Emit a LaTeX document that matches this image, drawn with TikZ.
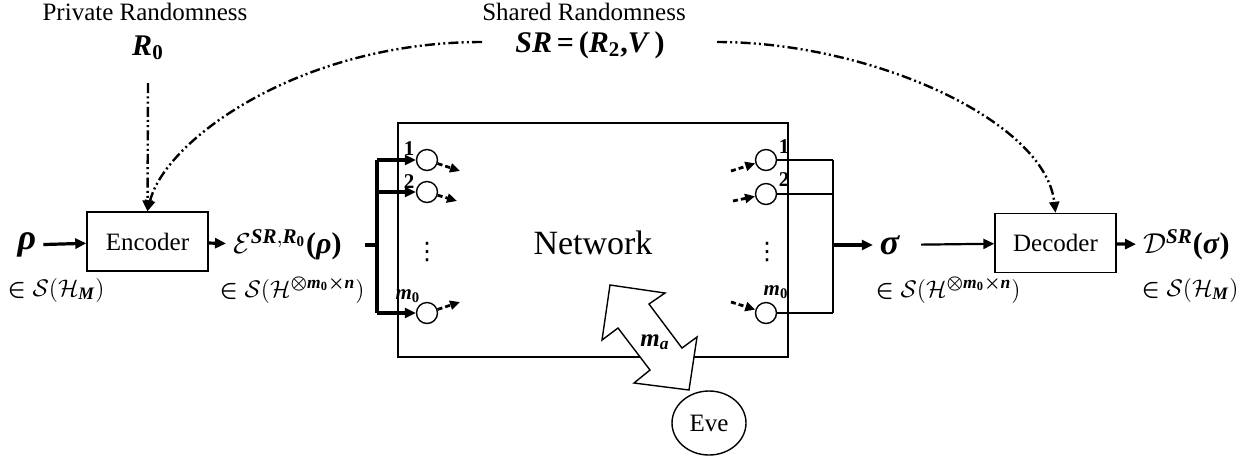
\documentclass[tikz,border=0pt]{standalone}
\usepackage{amsmath}
\usepackage{fontspec}
\setmainfont{Liberation Serif}
\newfontfamily\dotsfont{DejaVu Sans}
\usepackage{tikz}
\usetikzlibrary{arrows.meta,shapes.geometric}
\newcommand{\bfit}[1]{\textbf{\textit{#1}}}

\begin{document}
\begin{tikzpicture}[x=0.5pt,y=-0.5pt,
  font=\fontsize{12.5}{14}\selectfont,
  blk/.style={draw,line width=0.7pt,minimum width=60.5pt,minimum height=29.5pt,inner sep=0pt},
  port/.style={circle,draw,line width=0.7pt,minimum size=10.5pt,inner sep=0pt},
  sym/.style={font=\fontsize{15}{15}\selectfont},
  big/.style={font=\fontsize{18}{18}\selectfont},
  lbl/.style={font=\fontsize{10.5}{10.5}\selectfont,inner sep=0pt},
  vdot/.style={font=\dotsfont\fontsize{12}{12}\selectfont,inner sep=0pt},
  feed/.style={line width=1.6pt,-{Triangle[length=5.5pt,width=5pt]}},
  wire/.style={line width=0.9pt},
  hop/.style={line width=1.4pt,dash pattern=on 2.5pt off 1.5pt,-{Triangle[length=5pt,width=4.5pt]}},
  dd/.style={line width=1.2pt,dash pattern=on 5pt off 1.6pt on 1pt off 1.6pt on 1pt off 1.6pt,-{Triangle[length=5.5pt,width=5pt]}}]

  \useasboundingbox (0,0) rectangle (1253,457);

  % Randomness sources
  \node (priv) at (145,12) {Private Randomness};
  \node (shared) at (584,12) {Shared Randomness};
  \node[sym] (R0) at (148,48) {$\bfit{R}_{\textbf{0}}$};
  \node[sym] (SR) at (590,45) {$\bfit{SR}\,\textbf{=}\,\textbf{(}\bfit{R}_{\textbf{2}}\textbf{,}\bfit{V}\,\textbf{)}$};

  % Encoder side
  \node[big] (rho) at (27,245) {\bfit{ρ}};
  \node[blk] (enc) at (147.5,241.5) {Encoder};
  \node[sym,anchor=west] (encout) at (226,245) {$\mathcal{E}^{\bfit{SR},\bfit{R}_{\textbf{0}}}\textbf{(}\bfit{ρ}\textbf{)}$};
  \node (inM) at (56,290) {$\boldsymbol{\in}\mathcal{S}(\mathcal{H}_{\bfit{M}})$};
  \node (inN) at (292,290) {$\boldsymbol{\in}\mathcal{S}(\mathcal{H}^{\boldsymbol{\otimes}\bfit{m}_{\textbf{0}}\boldsymbol{\times}\bfit{n}})$};

  % Network box
  \draw[line width=0.7pt] (398,123) rectangle (788,357);
  \node[font=\fontsize{17}{17}\selectfont] (net) at (593,243) {Network};

  % Ports
  \node[port] (l1) at (427,160) {};
  \node[port] (l2) at (427,192) {};
  \node[port] (lm) at (427,313) {};
  \node[port] (r1) at (766,160) {};
  \node[port] (r2) at (766,194) {};
  \node[port] (rm) at (766,313) {};
  \node[lbl] (l1t) at (409,149) {\textbf{1}};
  \node[lbl] (l2t) at (409,182) {\textbf{2}};
  \node[lbl] (lmt) at (408,296) {$\bfit{m}_{\textbf{0}}$};
  \node[lbl] (r1t) at (784,147) {\textbf{1}};
  \node[lbl] (r2t) at (784,180) {\textbf{2}};
  \node[lbl] (rmt) at (776,292) {$\bfit{m}_{\textbf{0}}$};
  \node[vdot] (ldots) at (427,252) {⋮};
  \node[vdot] (rdots) at (767,252) {⋮};

  % Left bus into the ports
  \coordinate (lstub) at (365,245);
  \coordinate (ljoin) at (377,245);
  \coordinate (ltop) at (377,160);
  \coordinate (lmid) at (377,192);
  \coordinate (lbot) at (377,313);
  \draw[line width=1.6pt] (lstub) -- (ljoin);
  \draw[line width=1.6pt] (ltop) -- (lbot);
  \draw[feed] (ltop) -- (l1);
  \draw[feed] (lmid) -- (l2);
  \draw[feed] (lbot) -- (lm);

  % Short dashed hops
  \coordinate (l1o) at (460,171);
  \coordinate (l2o) at (457,201);
  \coordinate (lmo) at (460,302);
  \coordinate (r1i) at (731,171);
  \coordinate (r2i) at (733,201);
  \coordinate (rmi) at (731,302);
  \draw[hop] (l1) -- (l1o);
  \draw[hop] (l2) -- (l2o);
  \draw[hop] (lm) -- (lmo);
  \draw[hop] (r1i) -- (r1);
  \draw[hop] (r2i) -- (r2);
  \draw[hop] (rmi) -- (rm);

  % Right bus out of the ports
  \coordinate (rtop) at (833,160);
  \coordinate (rmid) at (833,194);
  \coordinate (rbot) at (833,313);
  \coordinate (rjoin) at (833,245);
  \draw[wire] (r1) -- (rtop);
  \draw[line width=0.7pt] (r2) -- (rmid);
  \draw[line width=1.4pt] (rm) -- (rbot);
  \draw[line width=1.2pt] (rtop) -- (rbot);

  % Decoder side
  \node[big] (sigma) at (890,245) {\bfit{σ}};
  \node[blk] (dec) at (1055.5,243) {Decoder};
  \node[sym,anchor=west] (decout) at (1136,245) {$\mathcal{D}^{\bfit{SR}}\textbf{(}\bfit{σ}\textbf{)}$};
  \node (inN2) at (948,290) {$\boldsymbol{\in}\mathcal{S}(\mathcal{H}^{\boldsymbol{\otimes}\bfit{m}_{\textbf{0}}\boldsymbol{\times}\bfit{n}})$};
  \node (inM2) at (1190,290) {$\boldsymbol{\in}\mathcal{S}(\mathcal{H}_{\bfit{M}})$};

  % Main flow
  \draw[feed] (rho) -- (enc);
  \draw[feed] (enc) -- (encout);
  \draw[feed] (rjoin) -- (sigma);
  \draw[feed,line width=1.1pt,shorten <=7pt] (sigma) -- (dec);
  \draw[feed] (dec) -- (decout);

  % Randomness links
  \coordinate (srl) at (482,42);
  \coordinate (srr) at (717,42);
  \draw[dd] ([yshift=-8pt]R0.south) -- (enc.north);
  \draw[dd] (srl) .. controls (300,42) and (165,140) .. (enc.north);
  \draw[dd] (srr) .. controls (870,42) and (1045,120) .. (dec.north);

  % Eve
  \draw[fill=white,line width=0.7pt] (610,285) -- (665,293) -- (649,304) -- (682,348) -- (697,337)
    -- (689,390) -- (634,383) -- (650,370) -- (618,328) -- (602,340) -- cycle;
  \node (ma) at (655,342) {$\bfit{m}_{\bfit{a}}$};
  \node[ellipse,draw,line width=0.7pt,minimum width=37pt,minimum height=32pt,inner sep=0pt] (eve) at (709,423) {Eve};

\end{tikzpicture}
\end{document}
